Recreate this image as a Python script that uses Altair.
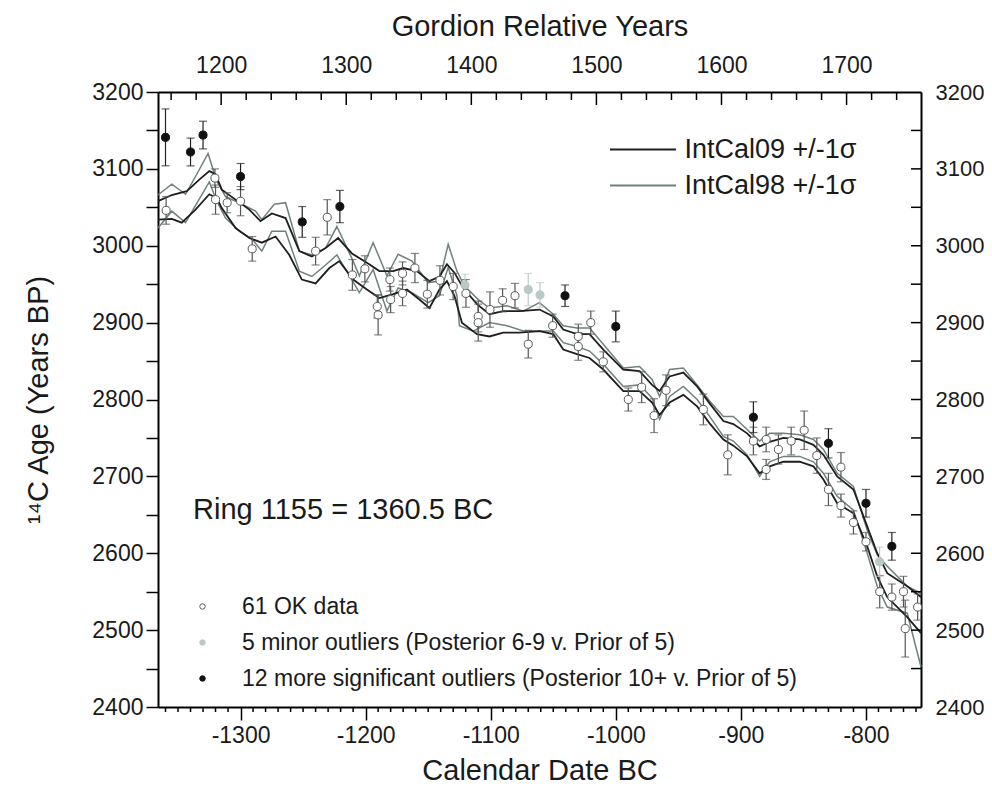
import altair as alt
import pandas as pd

# ---------------- data ----------------
X_DOMAIN = [-1366, -756]
Y_DOMAIN = [2400, 3200]
REL_OFFSET = 2515.5  # Gordion relative year = calendar year + 2515.5 (ring 1155 = 1360.5 BC)

ok_x = [-1359.5, -1320.5, -1320, -1310.7, -1300, -1290.7, -1240, -1230.7, -1210.6, -1200.6,
        -1190.7, -1190, -1180.6, -1180, -1170.5, -1170.5, -1160.6, -1150.7, -1140.6, -1130,
        -1119.8, -1110, -1110, -1100.6, -1090.5, -1080.6, -1070, -1050.5, -1030, -1030,
        -1020, -1010, -990, -979.3, -969.4, -959.8, -930, -910.5, -890, -879.8,
        -879.8, -870, -859.8, -849.4, -839.3, -830, -820, -820, -810, -800,
        -789, -779.3, -770, -768.6, -758.7]
ok_y = [3046, 3088, 3060, 3056, 3058, 2996, 2993, 3037, 2962, 2970,
        2921, 2910, 2956, 2930, 2964, 2938, 2971, 2937, 2955, 2947,
        2938, 2908, 2900, 2917, 2929, 2935, 2872, 2896, 2882, 2869,
        2900, 2849, 2800, 2816, 2779, 2812, 2787, 2728, 2746, 2748,
        2709, 2735, 2746, 2760, 2727, 2683, 2712, 2662, 2640, 2615,
        2550, 2543, 2550, 2502, 2530]
ok_err = [18, 12, 19, 13, 19, 16, 18, 23, 20, 17,
          15, 26, 15, 17, 15, 16, 19, 18, 19, 17,
          18, 20, 24, 23, 15, 16, 18, 15, 16, 18,
          15, 13, 15, 20, 22, 20, 20, 26, 18, 16,
          13, 19, 18, 25, 23, 21, 19, 15, 15, 12,
          21, 17, 20, 37, 17]

minor_x = [-1120.6, -1070, -1060.6, -789.1]
minor_y = [2949, 2943, 2936, 2589]
minor_err = [14, 21, 16, 19]

sig_x = [-1360, -1340, -1330, -1300, -1250.7, -1220.6, -1040.6, -1000, -890, -830, -800, -779.3]
sig_y = [3141, 3122, 3144, 3090, 3031, 3051, 2935, 2895, 2777, 2743, 2665, 2609]
sig_err = [37, 18, 18, 17, 20, 21, 14, 20, 20, 19, 18, 18]

cat_names = ["61 OK data",
             "5 minor outliers (Posterior 6-9 v. Prior of 5)",
             "12 more significant outliers (Posterior 10+ v. Prior of 5)"]

# IntCal09 +/- 1 sigma
c09u_x = [-1366, -1355, -1343, -1333, -1325, -1320, -1315, -1304, -1293, -1284, -1275, -1264, -1253, -1243,
          -1232, -1222, -1211, -1199, -1189, -1178, -1170, -1159, -1149, -1141, -1135, -1129, -1122, -1111,
          -1101, -1090, -1077, -1061, -1050, -1042, -1031, -1021, -1010, -994, -981, -971, -965, -957,
          -946, -935, -925, -914, -906, -895, -885, -877, -866, -853, -842, -834, -823, -810, -799,
          -791, -783, -767, -756]
c09u_y = [3058, 3066, 3071, 3086, 3097, 3093, 3073, 3060, 3047, 3032, 3042, 3036, 2993, 2986,
          2997, 3010, 2990, 2978, 2967, 2967, 2971, 2967, 2954, 2960, 2976, 2965, 2945, 2924,
          2911, 2915, 2915, 2917, 2908, 2891, 2885, 2885, 2865, 2839, 2837, 2819, 2811, 2830,
          2835, 2817, 2795, 2772, 2768, 2756, 2739, 2745, 2750, 2748, 2741, 2728, 2700, 2683, 2635,
          2600, 2574, 2557, 2543]
c09l_x = [-1366, -1355, -1347, -1336, -1325, -1319, -1315, -1304, -1293, -1283, -1272, -1261, -1251, -1240,
          -1229, -1221, -1210, -1199, -1189, -1178, -1167, -1157, -1149, -1141, -1135, -1129, -1123, -1111,
          -1101, -1090, -1077, -1061, -1050, -1042, -1031, -1021, -1010, -994, -981, -971, -965, -957,
          -946, -935, -925, -914, -906, -895, -885, -877, -866, -853, -842, -834, -823, -810, -799,
          -791, -783, -767, -756]
c09l_y = [3034, 3035, 3030, 3047, 3067, 3062, 3049, 3023, 3010, 3004, 3012, 2988, 2956, 2951,
          2971, 2980, 2956, 2943, 2932, 2937, 2943, 2930, 2919, 2943, 2954, 2935, 2900, 2885,
          2882, 2887, 2887, 2889, 2885, 2865, 2859, 2854, 2839, 2811, 2811, 2796, 2780, 2796,
          2806, 2791, 2769, 2748, 2740, 2726, 2704, 2713, 2719, 2719, 2713, 2696, 2665, 2652, 2609,
          2570, 2543, 2517, 2496]

# IntCal98 +/- 1 sigma
c98u_x = [-1366, -1355, -1344, -1335, -1326, -1319, -1312, -1300, -1288, -1283, -1273, -1264, -1253, -1243,
          -1232, -1223, -1210, -1205, -1194, -1183, -1174, -1163, -1150, -1141, -1134, -1127, -1121, -1110,
          -1101, -1087, -1074, -1061, -1050, -1042, -1031, -1021, -1010, -994, -981, -971, -965, -957,
          -946, -935, -925, -914, -906, -895, -885, -877, -866, -853, -842, -834, -823, -810, -799,
          -791, -783, -767, -756]
c98u_y = [3066, 3080, 3067, 3093, 3120, 3084, 3064, 3055, 3045, 3034, 3054, 3056, 2993, 2988,
          2997, 3025, 2980, 2961, 3004, 2961, 2989, 2980, 2952, 2954, 3002, 2967, 2948, 2930,
          2919, 2922, 2915, 2926, 2911, 2896, 2893, 2893, 2872, 2841, 2843, 2826, 2804, 2839,
          2841, 2819, 2798, 2778, 2778, 2761, 2746, 2756, 2756, 2754, 2748, 2735, 2704, 2687, 2630,
          2598, 2583, 2557, 2548]
c98l_x = [-1366, -1355, -1344, -1335, -1325, -1319, -1312, -1301, -1291, -1283, -1275, -1264, -1253, -1243,
          -1232, -1223, -1213, -1205, -1194, -1183, -1174, -1163, -1150, -1141, -1134, -1127, -1125, -1114,
          -1101, -1087, -1074, -1061, -1050, -1042, -1031, -1021, -1010, -994, -981, -971, -965, -957,
          -946, -935, -925, -914, -906, -895, -885, -877, -866, -853, -842, -834, -823, -810, -799,
          -791, -783, -767, -756]
c98l_y = [3023, 3045, 3030, 3055, 3083, 3058, 3036, 3019, 3009, 2993, 3019, 3019, 2967, 2960,
          2975, 2988, 2961, 2939, 2969, 2915, 2945, 2939, 2926, 2935, 2972, 2935, 2896, 2889,
          2900, 2896, 2889, 2889, 2889, 2874, 2869, 2863, 2846, 2817, 2819, 2802, 2774, 2804,
          2817, 2800, 2778, 2752, 2746, 2728, 2700, 2719, 2726, 2726, 2719, 2704, 2674, 2656, 2600,
          2557, 2530, 2522, 2452]

series_names = ["IntCal09 +/-1\u03c3", "IntCal98 +/-1\u03c3"]

# axis tick values
x_major = [-1300, -1200, -1100, -1000, -900, -800]
x_minor = [v for v in range(-1360, -759, 10) if v % 100 != 0]
rel_major = [1200, 1300, 1400, 1500, 1600, 1700]
rel_minor = [v for v in range(1160, 1760, 20) if v % 100 != 0]
y_ticks = list(range(2400, 3201, 50))
y_labels = list(range(2400, 3201, 100))
y_right_ticks = list(range(2450, 3151, 50))

note_x = [-1338]
note_y = [2656]
note_text = ["Ring 1155 = 1360.5 BC"]

# ---------------- frames ----------------
W, H = 763, 615
FONT = "Liberation Sans"
TXT = "#1a1a1a"
BLACK_LINE = "#1e1e1e"
GRAY_LINE = "#6f817f"
cat_fill = ["#ffffff", "#b9c9c5", "#111111"]
cat_stroke = ["#5a5a5a", "#b9c9c5", "#111111"]
bar_color = ["#555555", "#bfcac8", "#222222"]


def pts(xv, yv, ev, cat):
    return pd.DataFrame({"x": xv, "y": yv, "lo": [a - b for a, b in zip(yv, ev)],
                         "hi": [a + b for a, b in zip(yv, ev)], "cat": cat})


p_ok = pts(ok_x, ok_y, ok_err, cat_names[0])
p_min = pts(minor_x, minor_y, minor_err, cat_names[1])
p_sig = pts(sig_x, sig_y, sig_err, cat_names[2])
points = pd.concat([p_ok, p_min, p_sig], ignore_index=True)


def curve(xv, yv, name, bound):
    return pd.DataFrame({"x": xv, "y": yv, "series": name, "bound": bound})


c09 = pd.concat([curve(c09u_x, c09u_y, series_names[0], "u"), curve(c09l_x, c09l_y, series_names[0], "l")])
c98 = pd.concat([curve(c98u_x, c98u_y, series_names[1], "u"), curve(c98l_x, c98l_y, series_names[1], "l")])

xs = alt.Scale(domain=X_DOMAIN, nice=False, zero=False)
ys = alt.Scale(domain=Y_DOMAIN, nice=False, zero=False)
rel_scale = alt.Scale(domain=[X_DOMAIN[0] + REL_OFFSET, X_DOMAIN[1] + REL_OFFSET], nice=False, zero=False)

x_axis = alt.Axis(values=x_major, title="Calendar Date BC", labelExpr="'' + datum.value",
                  tickSize=13, tickWidth=1.5, tickColor="black", domainColor="black", domainWidth=2,
                  labelFont=FONT, labelFontSize=23, labelColor=TXT, labelPadding=4,
                  titleFont=FONT, titleFontSize=29, titleFontWeight="normal", titleColor=TXT,
                  titlePadding=9, grid=False)
y_axis = alt.Axis(values=y_ticks, title="\u00b9\u2074C Age (Years BP)",
                  labelExpr="datum.value % 100 === 0 ? '' + datum.value : ''",
                  tickSize=12, tickWidth=1.5, tickColor="black", domainColor="black", domainWidth=2,
                  labelFont=FONT, labelFontSize=23, labelColor=TXT, labelPadding=3,
                  titleFont=FONT, titleFontSize=29, titleFontWeight="normal", titleColor=TXT,
                  titlePadding=38, grid=False)


def X(field):
    return alt.X(f"{field}:Q", scale=xs, axis=x_axis)


def Y(field):
    return alt.Y(f"{field}:Q", scale=ys, axis=y_axis)


line_legend = alt.Legend(orient="none", legendX=471.5, legendY=44, title=None,
                         symbolType="M-6,0H6", symbolSize=121, symbolStrokeWidth=2,
                         labelFont=FONT, labelFontSize=27, labelColor=TXT,
                         labelOffset=28, rowPadding=8, labelLimit=600)
color_scale = alt.Scale(domain=series_names, range=[BLACK_LINE, GRAY_LINE])

line98 = alt.Chart(c98).mark_line(strokeWidth=1.5).encode(
    x=X("x"), y=Y("y"), color=alt.Color("series:N", scale=color_scale, legend=line_legend), detail="bound:N")
line09 = alt.Chart(c09).mark_line(strokeWidth=1.8).encode(
    x=X("x"), y=Y("y"), color=alt.Color("series:N", scale=color_scale, legend=line_legend), detail="bound:N")

err_layers = []
for df, col in zip([p_ok, p_min, p_sig], bar_color):
    err_layers.append(alt.Chart(df).mark_rule(color=col, strokeWidth=1.2).encode(
        x=X("x"), y=Y("lo"), y2="hi:Q"))
    for end in ["lo", "hi"]:
        err_layers.append(alt.Chart(df).mark_tick(color=col, orient="horizontal", size=8, thickness=1.2).encode(
            x=X("x"), y=Y(end)))

pt_legend = alt.Legend(orient="none", legendX=33, legendY=503, title=None, symbolType="circle",
                       symbolSize=30, symbolStrokeWidth=1, labelFont=FONT, labelFontSize=23,
                       labelColor=TXT, labelOffset=28, rowPadding=12, labelLimit=900)
point_layer = alt.Chart(points).mark_point(shape="circle", filled=True, size=65, strokeWidth=1, opacity=1).encode(
    x=X("x"), y=Y("y"),
    fill=alt.Fill("cat:N", scale=alt.Scale(domain=cat_names, range=cat_fill), legend=pt_legend),
    stroke=alt.Stroke("cat:N", scale=alt.Scale(domain=cat_names, range=cat_stroke), legend=pt_legend))

minor_df = pd.DataFrame({"v": x_minor})
bottom_minor = alt.Chart(minor_df).mark_rule(color="black", strokeWidth=1.5).encode(
    x=X("v"), y=alt.value(H), y2=alt.value(H + 5))

note_df = pd.DataFrame({"x": note_x, "y": note_y, "t": note_text})
note = alt.Chart(note_df).mark_text(align="left", baseline="middle", font=FONT, fontSize=29, color=TXT).encode(
    x=X("x"), y=Y("y"), text="t:N")

main = alt.layer(line98, line09, *err_layers, point_layer, bottom_minor, note)

# top (Gordion relative years) axis with inward ticks
top_axis = alt.Axis(orient="top", values=rel_major, title="Gordion Relative Years", ticks=False, tickSize=0,
                    domainColor="black", domainWidth=2, labelFont=FONT, labelFontSize=23, labelColor=TXT,
                    labelPadding=15, titleFont=FONT, titleFontSize=29, titleFontWeight="normal",
                    titleColor=TXT, titlePadding=13, grid=False, labelExpr="'' + datum.value")
top_major = alt.Chart(pd.DataFrame({"rel": rel_major})).mark_rule(color="black", strokeWidth=1.5).encode(
    x=alt.X("rel:Q", scale=rel_scale, axis=top_axis), y=alt.value(0), y2=alt.value(13))
top_minor = alt.Chart(pd.DataFrame({"rel": rel_minor})).mark_rule(color="black", strokeWidth=1.5).encode(
    x=alt.X("rel:Q", scale=rel_scale, axis=top_axis), y=alt.value(0), y2=alt.value(8))
top = alt.layer(top_major, top_minor)

# right axis with inward ticks
right_axis = alt.Axis(orient="right", values=y_labels, title=None, ticks=False, tickSize=0,
                      domainColor="black", domainWidth=2, labelFont=FONT, labelFontSize=22,
                      labelColor=TXT, labelPadding=14, grid=False, labelExpr="'' + datum.value")
right = alt.Chart(pd.DataFrame({"yr": y_right_ticks})).mark_rule(color="black", strokeWidth=1.5).encode(
    y=alt.Y("yr:Q", scale=ys, axis=right_axis), x=alt.value(W - 10), x2=alt.value(W))

chart = alt.layer(main, top, right).resolve_scale(x="independent", y="independent").properties(
    width=W, height=H,
    padding={"left": 150, "top": 84, "right": 63, "bottom": 81},
    autosize=alt.AutoSizeParams(type="none"),
).configure_view(stroke=None).configure(font=FONT, background="white")

chart.save("out.html", embed_options={"renderer": "svg", "actions": False})
